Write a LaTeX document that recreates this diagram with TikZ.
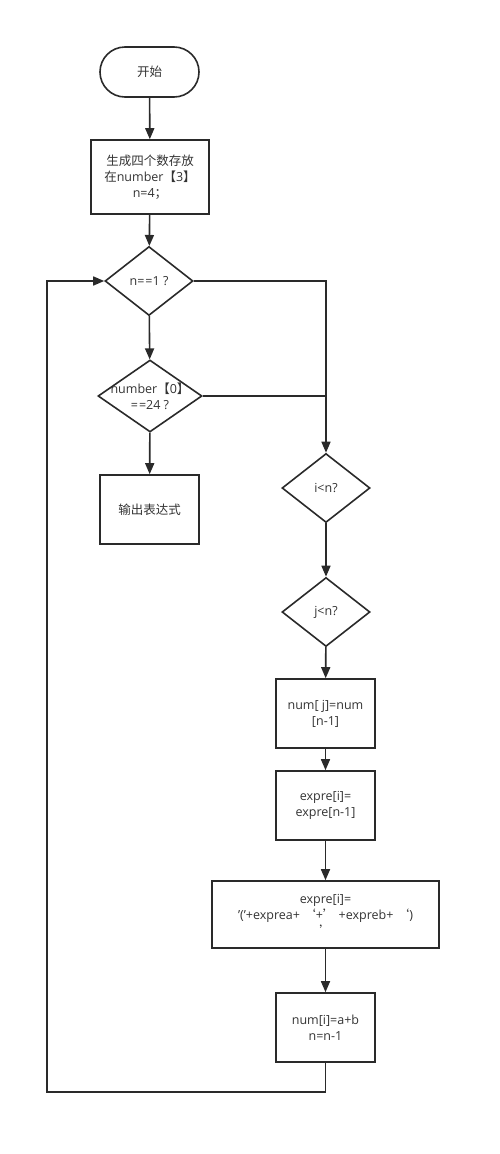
\documentclass[tikz,border=0pt]{standalone}
\usepackage{fontspec}
\setmainfont{Open Sans}
\newfontfamily\cjk{Noto Sans CJK SC}
\usetikzlibrary{shapes.geometric,arrows.meta}
\definecolor{ln}{HTML}{2A2A2A}
\definecolor{tx}{HTML}{333333}
\newcommand{\sq}{\char"27\relax}
\begin{document}
\begin{tikzpicture}[x=1pt,y=-1pt,
  every node/.style={font=\fontsize{12.5}{16}\selectfont, text=tx, align=center},
  box/.style={draw=ln, line width=1.6pt, rectangle, inner sep=2pt},
  dia/.style={draw=ln, line width=1.6pt, diamond, inner sep=0pt},
  arr/.style={draw=ln, line width=1.6pt, -{Triangle[length=11pt,width=9pt]}},
  ln/.style={draw=ln, line width=1.6pt}]
\useasboundingbox (0,0) rectangle (500,1154);
\node[box, rounded corners=25pt, minimum width=99pt, minimum height=50pt] (s) at (149.5,72) {\cjk 开始};
\node[box, minimum width=118pt, minimum height=74pt] (b1) at (150,177) {{\cjk 生成四个数存放}\\{\cjk 在}number{\cjk 【}3{\cjk 】}\\n=4{\cjk ；}};
\node[dia, minimum width=88pt, minimum height=69pt, label={[align=center]center:n=\kern1pt=1 ?}] (d1) at (149,281) {};
\node[dia, minimum width=104pt, minimum height=72pt, label={[align=center]center:number{\cjk 【}0{\cjk 】}\\=\kern1pt=24 ?}] (d2) at (150,396) {};
\node[box, minimum width=99pt, minimum height=69pt] (out) at (149.5,509.5) {\cjk 输出表达式};
\node[dia, minimum width=88pt, minimum height=69pt, label={[align=center]center:i<n?}] (d3) at (326,488) {};
\node[dia, minimum width=88pt, minimum height=69pt, label={[align=center]center:j<n?}] (d4) at (326,612) {};
\node[box, minimum width=99pt, minimum height=69pt] (r1) at (325.5,713.5) {num[ j]=num\\{}[n-1]};
\node[box, minimum width=99pt, minimum height=69pt] (r2) at (325.5,805.5) {expre[i]=\\expre[n-1]};
\node[box, minimum width=227pt, minimum height=67pt] (r3) at (325.5,914.5) {expre[i]=\\\sq(\sq+exprea+ {\cjk ‘}+{\cjk ’} +expreb+ {\cjk ‘})\\{\cjk ’}};
\node[box, minimum width=99pt, minimum height=69pt] (r4) at (325.5,1027.5) {num[i]=a+b\\n=n-1};
\coordinate (lb) at (47,1092);
\draw[arr] (s) -- (b1);
\draw[arr] (b1) -- (d1);
\draw[arr] (d1) -- (d2);
\draw[arr] (d2) -- (out);
\draw[arr] (d1.east) -| (d3.north);
\draw[ln] (d2.east) -- (d2.east -| d3.north);
\draw[arr] (d3) -- (d4);
\draw[arr] (d4) -- (r1);
\draw[arr] (r1) -- (r2);
\draw[arr] (r2) -- (r3);
\draw[arr] (r3) -- (r4);
\draw[arr] (r4.south) |- (lb) |- (d1.west);
\end{tikzpicture}
\end{document}
